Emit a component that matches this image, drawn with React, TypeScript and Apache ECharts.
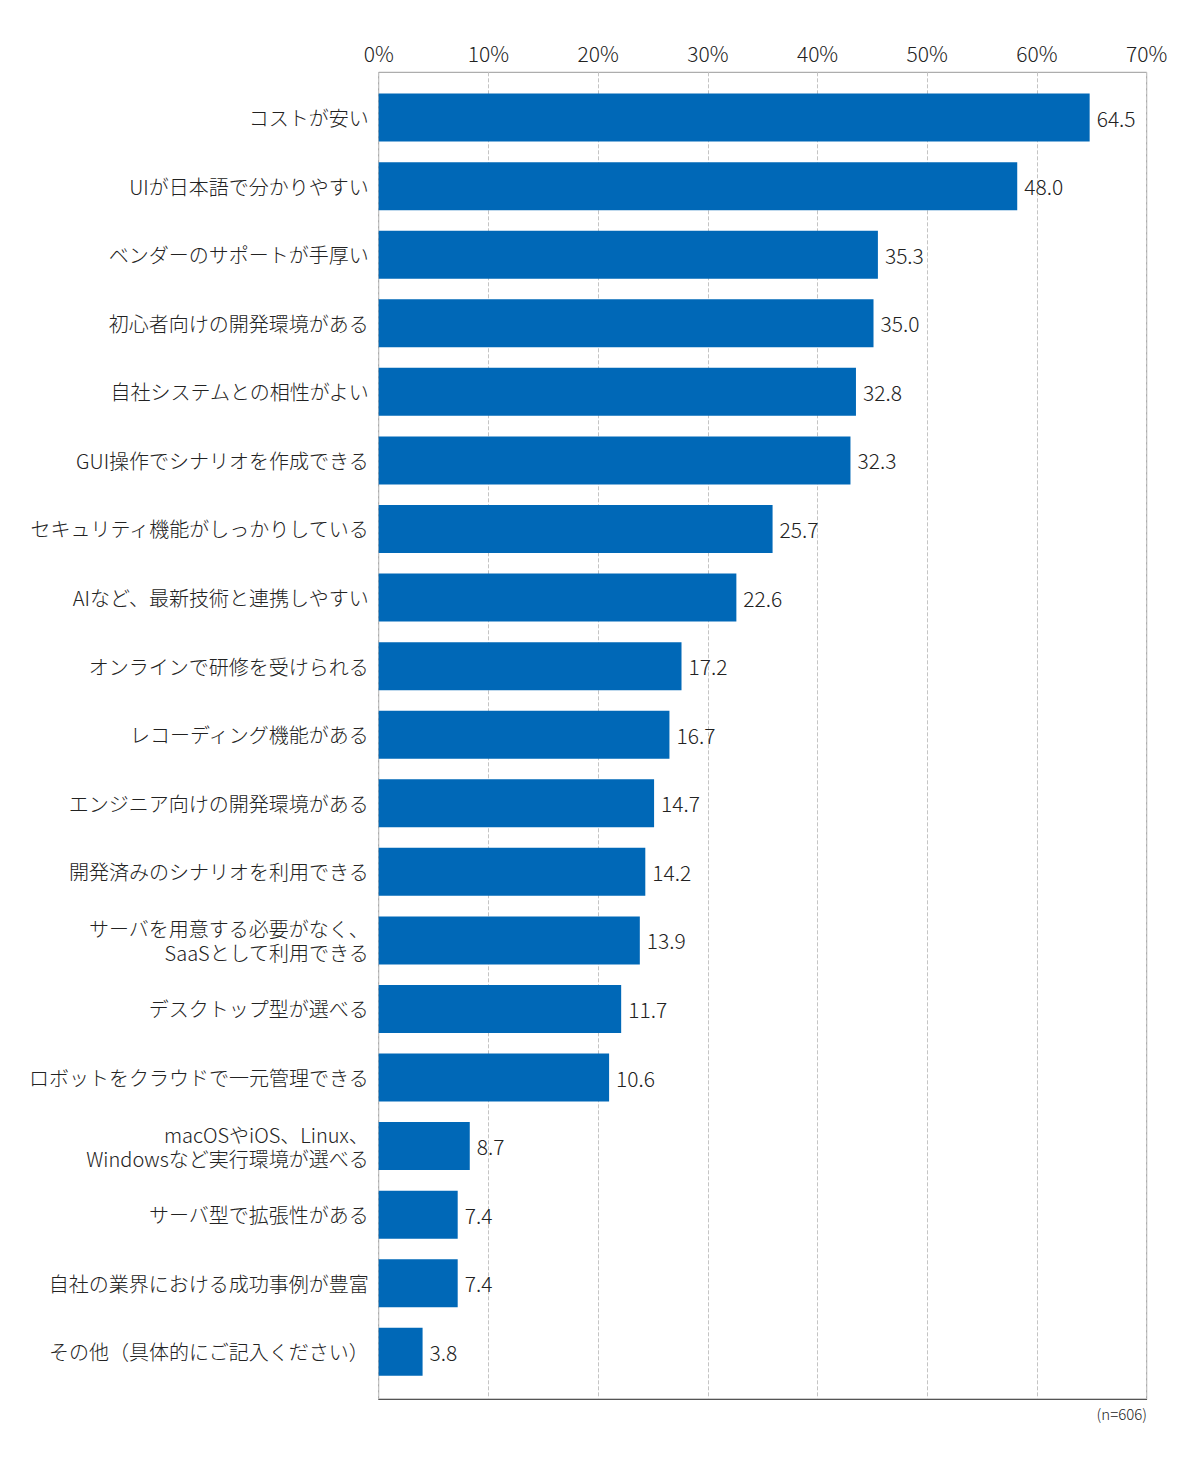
import React, { useEffect, useRef } from "react";
import * as echarts from "echarts";

const categories = [
  "コストが安い",
  "UIが日本語で分かりやすい",
  "ベンダーのサポートが手厚い",
  "初心者向けの開発環境がある",
  "自社システムとの相性がよい",
  "GUI操作でシナリオを作成できる",
  "セキュリティ機能がしっかりしている",
  "AIなど、最新技術と連携しやすい",
  "オンラインで研修を受けられる",
  "レコーディング機能がある",
  "エンジニア向けの開発環境がある",
  "開発済みのシナリオを利用できる",
  "サーバを用意する必要がなく、\nSaaSとして利用できる",
  "デスクトップ型が選べる",
  "ロボットをクラウドで一元管理できる",
  "macOSやiOS、Linux、\nWindowsなど実行環境が選べる",
  "サーバ型で拡張性がある",
  "自社の業界における成功事例が豊富",
  "その他（具体的にご記入ください）",
];

// Bar lengths as drawn in the picture
const barLengths = [64.8, 58.2, 45.5, 45.1, 43.5, 43.0, 35.9, 32.6, 27.6, 26.5, 25.1, 24.3, 23.8, 22.1, 21.0, 8.3, 7.2, 7.2, 4.0];
// Values printed next to the bars
const labelValues = [64.5, 48.0, 35.3, 35.0, 32.8, 32.3, 25.7, 22.6, 17.2, 16.7, 14.7, 14.2, 13.9, 11.7, 10.6, 8.7, 7.4, 7.4, 3.8];

const xTicksMax = 70;
const xInterval = 10;
const sampleNote = "(n=606)";

const FONT = "'Noto Sans CJK JP', 'Noto Sans', sans-serif";
const TEXT = "#222222";
const WEIGHT = 300;

export default function App() {
  const ref = useRef<HTMLDivElement>(null);
  useEffect(() => {
    if (!ref.current) return;
    const chart = echarts.init(ref.current, null, { renderer: "svg" });
    const frameLeft = 378.7;
    const frameWidth = 768;
    chart.setOption({
      animation: false,
      textStyle: { fontFamily: FONT },
      grid: [
        {
          left: frameLeft,
          top: 72.3,
          width: frameWidth,
          height: 1326.7,
          show: true,
          borderColor: "#999999",
          borderWidth: 1,
          backgroundColor: "transparent",
        },
        {
          left: frameLeft,
          top: 83.3,
          width: frameWidth,
          height: 1302.8,
        },
      ],
      xAxis: [
        {
          gridIndex: 0,
          type: "value",
          position: "top",
          min: 0,
          max: xTicksMax,
          interval: xInterval,
          axisLine: { show: true, lineStyle: { color: "#555555", width: 1 } },
          axisTick: { show: false },
          axisLabel: {
            formatter: "{value}%",
            fontSize: 21,
            color: TEXT,
            fontFamily: FONT,
            fontWeight: WEIGHT,
            margin: 9,
          },
          splitLine: { show: true, lineStyle: { type: "dashed", color: "#c4c4c4", width: 1 } },
        },
        {
          gridIndex: 1,
          type: "value",
          min: 0,
          max: xTicksMax,
          interval: xInterval,
          show: false,
          splitLine: { show: false },
        },
      ],
      yAxis: [
        {
          gridIndex: 0,
          type: "value",
          show: false,
          splitLine: { show: false },
        },
        {
          gridIndex: 1,
          type: "category",
          inverse: true,
          data: categories,
          axisLine: { show: false },
          axisTick: { show: false },
          axisLabel: {
            fontSize: 20,
            color: TEXT,
            fontFamily: FONT,
            fontWeight: WEIGHT,
            margin: 10,
            lineHeight: 24,
            align: "right",
          },
        },
      ],
      series: [
        {
          type: "bar",
          xAxisIndex: 1,
          yAxisIndex: 1,
          data: barLengths,
          barWidth: 48,
          itemStyle: { color: "#0068b7" },
          label: {
            show: true,
            position: "right",
            distance: 7,
            fontSize: 21,
            color: TEXT,
            fontFamily: FONT,
            fontWeight: WEIGHT,
            formatter: (p: any) => labelValues[p.dataIndex].toFixed(1),
          },
        },
      ],
      graphic: [
        {
          type: "text",
          right: 1200 - 1147,
          top: 1406,
          style: { text: sampleNote, fontSize: 15, fill: TEXT, fontFamily: FONT, fontWeight: WEIGHT },
        },
      ],
    });
    return () => chart.dispose();
  }, []);
  return (
    <div
      ref={ref}
      style={{ position: "absolute", left: 0, top: 0, width: 1200, height: 1475, background: "#fff" }}
    />
  );
}
